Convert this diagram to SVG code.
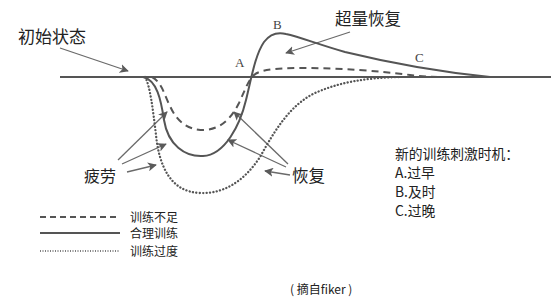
<svg xmlns="http://www.w3.org/2000/svg" width="553" height="306" viewBox="0 0 553 306">
<defs>
<marker id="ah" viewBox="0 0 10 10" refX="9" refY="5" markerWidth="9" markerHeight="9" markerUnits="userSpaceOnUse" orient="auto">
<path d="M0,0 L10,5 L0,10 L2.5,5 Z" fill="#5a5a5a"/>
</marker>
</defs>
<style>
.cv{fill:none;stroke:#555;stroke-width:2}
.dash{stroke-dasharray:7 5}
.dot{stroke-width:2.3;stroke-dasharray:0.1 3.3;stroke-linecap:round}
.ar{fill:none;stroke:#6a6a6a;stroke-width:1.3;marker-end:url(#ah)}
.t{font-family:"Noto Sans CJK SC","Liberation Sans",sans-serif;fill:#222}
.s{font-family:"Liberation Serif",serif;fill:#444;font-size:13px}
</style>
<rect width="553" height="306" fill="#fff"/>
<g id="connectors">
<line class="ar" x1="60" y1="48" x2="128" y2="71"/>
<line class="ar" x1="350" y1="32" x2="286" y2="53"/>
<line class="ar" x1="118" y1="160" x2="167" y2="112"/>
<line class="ar" x1="122" y1="164" x2="166" y2="144"/>
<line class="ar" x1="127" y1="172" x2="156" y2="165"/>
<line class="ar" x1="288" y1="164" x2="234" y2="112"/>
<line class="ar" x1="286" y1="167" x2="228" y2="140"/>
<line class="ar" x1="290" y1="175" x2="265" y2="171"/>
</g>
<g id="baseline"><line x1="60" y1="77" x2="551" y2="77" stroke="#555" stroke-width="1.8"/></g>
<g id="curve-solid"><path class="cv" d="M143,77 C157,80 161,100 164,120 C168,145 185,157 203,156 C225,155 240,125 246,100 C251,80 255,55 264,42 C270,34 278,32 286,34 C300,37 320,45 345,52 C390,63 440,72 490,77"/></g>
<g id="curve-dashed"><path class="cv dash" d="M152,77 C162,82 165,97 170,106 C177,122 188,130 204,130 C222,129 232,117 239,103 C245,90 248,81 253,76 C258,70 275,68 300,68 C340,68 380,71 410,75 C425,77 440,77 455,77"/></g>
<g id="curve-dotted"><path class="cv dot" d="M145,77 C150,85 153,110 156,135 C159,165 170,192 200,193 C225,194 245,180 260,157 C275,130 290,105 315,93 C340,82 365,78 400,77"/></g>
<g id="label-initial"><text class="t" x="18" y="43" font-size="17">初始状态</text></g>
<g id="label-super"><text class="t" x="335" y="25" font-size="16.5">超量恢复</text></g>
<g id="point-A"><text class="s" x="235" y="67">A</text></g>
<g id="point-B"><text class="s" x="273" y="29">B</text></g>
<g id="point-C"><text class="s" x="415" y="62">C</text></g>
<g id="label-fatigue"><text class="t" x="84" y="182" font-size="16">疲劳</text></g>
<g id="label-recover"><text class="t" x="292" y="182" font-size="16.5">恢复</text></g>
<g id="timing">
<text class="t" font-size="13.8" x="395" y="159">新的训练刺激时机：</text>
<text class="t" font-size="13.8" x="395" y="178">A.过早</text>
<text class="t" font-size="13.8" x="395" y="197">B.及时</text>
<text class="t" font-size="13.8" x="395" y="216">C.过晚</text>
</g>
<g id="legend">
<line x1="40" y1="217" x2="120" y2="217" stroke="#555" stroke-width="2" stroke-dasharray="6 4"/>
<line x1="40" y1="233" x2="120" y2="233" stroke="#555" stroke-width="2"/>
<line x1="40" y1="251" x2="120" y2="251" stroke="#555" stroke-width="1.3" stroke-dasharray="1 1.5"/>
<text class="t" font-size="12" x="130" y="221.5">训练不足</text>
<text class="t" font-size="12" x="130" y="237.5">合理训练</text>
<text class="t" font-size="12" x="130" y="255.5">训练过度</text>
</g>
<g id="footer"><text class="t" font-size="12" x="290" y="294">( 摘自fiker )</text></g>
</svg>
